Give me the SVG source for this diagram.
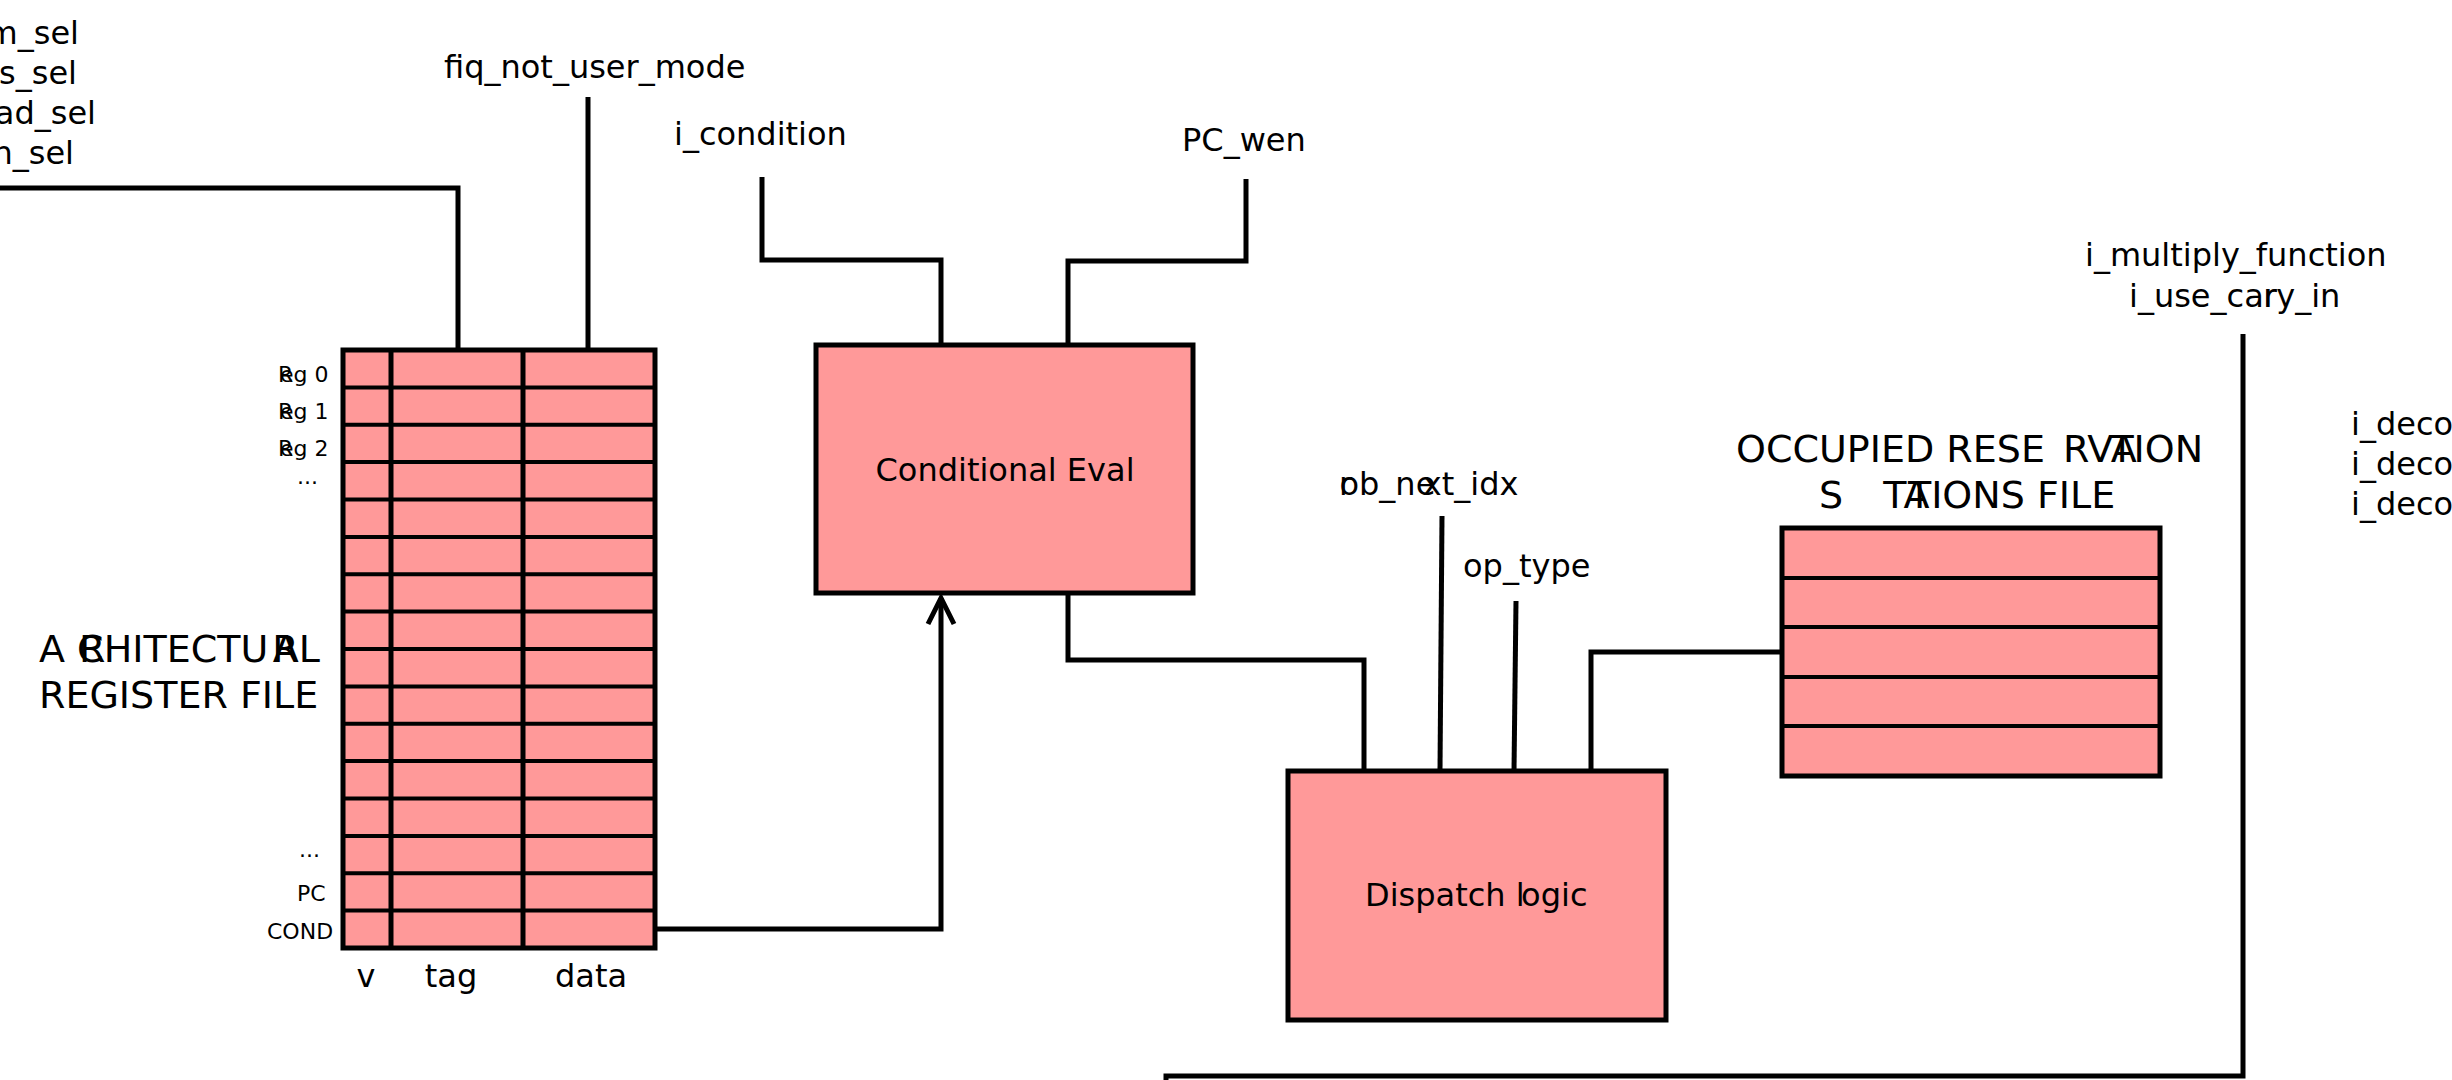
<svg xmlns="http://www.w3.org/2000/svg" width="2452" height="1080" viewBox="0 0 2452 1080">
<style>
text{font-family:"DejaVu Sans","Liberation Sans",sans-serif;fill:#000}
.lbl{font-size:32px}
.sm{font-size:22px}
.big{font-size:38px}
.box{fill:#ff9999;stroke:#000;stroke-width:5}
.grid{fill:none;stroke:#000;stroke-width:4}
.wire{fill:none;stroke:#000;stroke-width:5}
.mid{text-anchor:middle}
.end{text-anchor:end}
</style>
<defs>
<marker id="arr" markerUnits="userSpaceOnUse" markerWidth="40" markerHeight="40" viewBox="-32 -20 40 40" refX="0" refY="0" orient="auto" overflow="visible">
<path d="M-26,-13 L0,0 L-26,13" fill="none" stroke="#000" stroke-width="5"/>
</marker>
</defs>
<rect x="0" y="0" width="2452" height="1080" fill="#fff"/>

<g id="connectors">
<path class="wire" d="M0,188 H458 V350"/>
<path class="wire" d="M588,97 V350"/>
<path class="wire" d="M762,177 V260 H941 V345"/>
<path class="wire" d="M1246,179 V261 H1068 V345"/>
<path class="wire" d="M655,929 H941 V598" marker-end="url(#arr)"/>
<path class="wire" d="M1068,593 V660 H1364 V771"/>
<path class="wire" d="M1442,516 L1440,771"/>
<path class="wire" d="M1516,601 L1514,771"/>
<path class="wire" d="M1591,771 V652 H1782"/>
<path class="wire" d="M2243,334 V1076 H1166 V1085"/>
</g>

<g id="sel-signals">
<text class="lbl end" x="79" y="44">m_sel</text>
<text class="lbl end" x="77" y="84">s_sel</text>
<text class="lbl end" x="96" y="124">ad_sel</text>
<text class="lbl end" x="74" y="164">n_sel</text>
</g>
<g id="sig-fiq"><text class="lbl" x="444" y="78">fiq_not_user_mode</text></g>
<g id="sig-cond"><text class="lbl" x="674" y="145">i_condition</text></g>
<g id="sig-pcwen"><text class="lbl" x="1182" y="151">PC_wen</text></g>
<g id="sig-rob"><text class="lbl" x="1339" y="495" dx="0 -12 0 0 0 0 -12">rob_next_idx</text></g>
<g id="sig-optype"><text class="lbl" x="1463" y="577">op_type</text></g>
<g id="sig-mult">
<text class="lbl" x="2085" y="266">i_multiply_function</text>
<text class="lbl" x="2129" y="307" dx="0 0 0 0 0 0 0 0 0 -13.2">i_use_carry_in</text>
</g>
<g id="sig-decode">
<text class="lbl" x="2351" y="435">i_deco</text>
<text class="lbl" x="2351" y="475">i_deco</text>
<text class="lbl" x="2351" y="515">i_deco</text>
</g>

<g id="arch-regfile">
<text class="big" x="39" y="662" dx="0 14 -26.4 0 0 0 0 0 0 0 4 -24.4">ARCHITECTURAL</text>
<text class="big" x="39" y="708">REGISTER FILE</text>
<rect class="box" x="343" y="350" width="312" height="598"/>
<path class="grid" d="M343,387.4H655M343,424.75H655M343,462.1H655M343,499.5H655M343,536.9H655M343,574.25H655M343,611.6H655M343,649H655M343,686.4H655M343,723.75H655M343,761.1H655M343,798.5H655M343,835.9H655M343,873.25H655M343,910.6H655"/>
<path class="wire" d="M391,350V948M523,350V948"/>
<text class="sm" x="278 280" y="382">Reg 0</text>
<text class="sm" x="278 280" y="419.4">Reg 1</text>
<text class="sm" x="278 280" y="456">Reg 2</text>
<text class="sm" x="297" y="484">...</text>
<text class="sm" x="299" y="857">...</text>
<text class="sm" x="297" y="901">PC</text>
<text class="sm" x="267" y="939">COND</text>
<text class="lbl mid" x="366" y="987">v</text>
<text class="lbl mid" x="451" y="987">tag</text>
<text class="lbl mid" x="591" y="987">data</text>
</g>

<g id="cond-eval">
<rect class="box" x="816" y="345" width="377" height="248"/>
<text class="lbl mid" x="1005" y="481">Conditional Eval</text>
</g>

<g id="dispatch">
<rect class="box" x="1288" y="771" width="378" height="249"/>
<text class="lbl" x="1365" y="906" dx="0 0 0 0 0 0 0 0 0 0 -3.5">Dispatch logic</text>
</g>

<g id="rs-file">
<text class="big" x="1736" y="462" dx="0 0 0 0 0 0 0 0 0 0 0 0 0 18 0 0 -23.5">OCCUPIED RESERVATION</text>
<text class="big" x="1819" y="508" dx="0 40 0 -18.5">STATIONS FILE</text>
<rect class="box" x="1782" y="528" width="378" height="248"/>
<path class="grid" d="M1782,578H2160M1782,627H2160M1782,677H2160M1782,726H2160"/>
</g>
</svg>
